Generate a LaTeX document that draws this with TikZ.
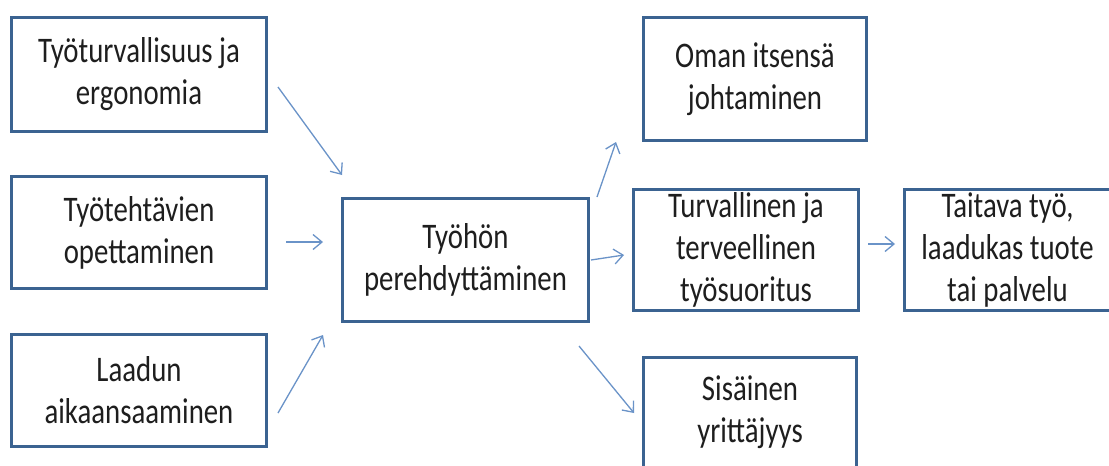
\documentclass[tikz,border=0pt]{standalone}
\usepackage{fontspec}
\setmainfont[FakeStretch=0.8]{Carlito}
\usetikzlibrary{arrows.meta}
\definecolor{boxblue}{HTML}{3B6391}
\definecolor{arrblue}{HTML}{6A93C8}
\definecolor{txt}{HTML}{1E1E1E}
\tikzset{
  fbox/.style={draw=boxblue, line width=3pt, rectangle, inner sep=0pt, align=center,
    text=txt, font=\fontsize{36}{42}\selectfont},
  conn/.style={draw=arrblue, line width=1.3pt, -{Straight Barb[length=9pt,width=15pt,line width=1.3pt]}}
}
\begin{document}
\begin{tikzpicture}[x=1pt,y=-1pt]
\useasboundingbox (0,0) rectangle (1109,466);
\clip (0,0) rectangle (1109,466);
\fill[white] (0,0) rectangle (1109,466);
% left column
\node[fbox, minimum width=255pt, minimum height=114pt] (b1) at (139,74.5) {Työturvallisuus ja\\ergonomia};
\node[fbox, minimum width=255pt, minimum height=112pt] (b2) at (139,232.5) {Työtehtävien\\opettaminen};
\node[fbox, minimum width=255pt, minimum height=112pt] (b3) at (139,390.5) {Laadun\\aikaansaaminen};
% center
\node[fbox, minimum width=246pt, minimum height=123pt] (c) at (465.5,260) {Työhön\\perehdyttäminen};
% right
\node[fbox, minimum width=223pt, minimum height=123pt] (o) at (755,79) {Oman itsensä\\johtaminen};
\node[fbox, minimum width=225pt, minimum height=121pt] (t) at (746,250) {Turvallinen ja\\terveellinen\\työsuoritus};
\node[fbox, minimum width=206pt, minimum height=121pt] (ta) at (1007.5,250) {Taitava työ,\\laadukas tuote\\tai palvelu};
\node[fbox, minimum width=213pt, minimum height=110pt] (s) at (750,412) {Sisäinen\\yrittäjyys};
% connector end points
\coordinate (a1s) at (278,87);  \coordinate (a1e) at (342,175);
\coordinate (a2s) at (286,242); \coordinate (a2e) at (323,242);
\coordinate (a3s) at (278,413); \coordinate (a3e) at (323,335);
\coordinate (a4s) at (597,197); \coordinate (a4e) at (616,142);
\coordinate (a5s) at (591,260); \coordinate (a5e) at (624,255);
\coordinate (a6s) at (579,346); \coordinate (a6e) at (634,413);
\coordinate (a7s) at (868,244); \coordinate (a7e) at (895,244);
\draw[conn] (a1s) -- (a1e);
\draw[conn] (a2s) -- (a2e);
\draw[conn] (a3s) -- (a3e);
\draw[conn] (a4s) -- (a4e);
\draw[conn] (a5s) -- (a5e);
\draw[conn] (a6s) -- (a6e);
\draw[conn] (a7s) -- (a7e);
\end{tikzpicture}
\end{document}
